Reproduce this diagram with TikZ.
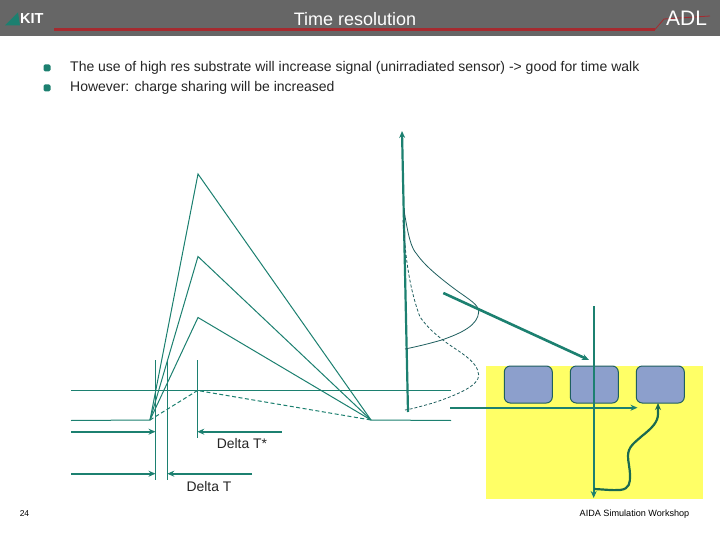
\documentclass[tikz,border=0pt]{standalone}
\usepackage{fontspec}
\setmainfont{Liberation Sans}
\usetikzlibrary{arrows.meta}
\definecolor{teal1}{HTML}{1C8070}
\definecolor{hdr}{HTML}{666666}
\definecolor{redl}{HTML}{A52A2F}
\definecolor{boxb}{HTML}{8C9FCC}
\definecolor{boxe}{HTML}{1F5F5F}
\definecolor{yel}{HTML}{FFFF66}
\definecolor{curv}{HTML}{1A6A50}
\tikzset{
 thin1/.style={draw=teal1,line width=1pt},
 thick1/.style={draw=teal1,line width=2.2pt},
 tip1/.style={-{Stealth[length=7pt,width=6pt]}},
 gauss/.style={draw=boxe,line width=0.8pt},
 bodytext/.style={anchor=west,inner sep=0pt,font=\fontsize{14}{16}\selectfont,text=black!85},
 lab/.style={inner sep=0pt,font=\fontsize{13.9}{16}\selectfont,text=black!85},
 bul/.style={fill=teal1,rounded corners=1.5pt,minimum size=7pt,inner sep=0pt},
 pix/.style={draw=boxe,fill=boxb,line width=1pt,rounded corners=6pt,minimum width=48pt,minimum height=37pt,inner sep=0pt}
}
\begin{document}
\begin{tikzpicture}[x=1pt,y=-1pt]
\useasboundingbox (0,0) rectangle (720,540);
\fill[white] (0,0) rectangle (720,540);
% header
\fill[hdr] (0,0) rectangle (720,36);
\draw[redl,line width=2.6pt] (54,29.5) -- (655,29.5);
\draw[redl,line width=0.8pt] (655,29.5) -- (664,19) -- (710,16);
\node[inner sep=0pt,text=white,font=\fontsize{18}{20}\selectfont] (title) at (355,19.5) {Time resolution};
\fill[teal1] (5,25.5) -- (18,12.5) -- (20,25.5) -- cycle;
\node[anchor=west,inner sep=0pt,text=white,font=\bfseries\fontsize{14.5}{16}\selectfont] (kit) at (20,19) {KIT};
\node[anchor=west,inner sep=0pt,text=white,font=\fontsize{21}{22}\selectfont] (adl) at (666,18) {ADL};
% bullets and text
\node[bul] (b1) at (47,68) {};
\node[bul] (b2) at (47,88) {};
\node[bodytext] (t1) at (70,67.5) {The use of high res substrate will increase signal (unirradiated sensor) -> good for time walk};
\node[bodytext] (t2) at (70,87.5) {However: charge sharing will be increased};
% sensor
\fill[yel] (485.7,365.7) rectangle (703,499);
\node[pix] (p1) at (528.3,384.5) {};
\node[pix] (p2) at (594.3,384.5) {};
\node[pix] (p3) at (660.3,384.5) {};
% named points
\coordinate (s) at (150,420);
\coordinate (e) at (371,420);
\coordinate (pa) at (198,174);
\coordinate (pb) at (198,256.5);
\coordinate (pc) at (198,317.5);
\coordinate (bl) at (71,420.5);
\coordinate (br) at (451,420.5);
\coordinate (tl) at (71,390.5);
\coordinate (tr) at (451,390.5);
% pulses
\draw[thin1] (s) -- (pa) -- (e);
\draw[thin1] (s) -- (pb) -- (e);
\draw[thin1] (s) -- (pc) -- (e);
\draw[thin1] (bl) -- (s);
\draw[thin1] (e) -- (br);
\draw[thin1] (tl) -- (tr);
\draw[thin1,dash pattern=on 4pt off 2.5pt] (s) -- (197.5,390.5) -- (e);
% vertical markers
\coordinate (v1a) at (155.5,360); \coordinate (v1b) at (155.5,480);
\coordinate (v2a) at (167.3,360); \coordinate (v2b) at (167.3,480);
\coordinate (v3a) at (197.3,360); \coordinate (v3b) at (197.3,438);
\draw[thin1] (v1a) -- (v1b);
\draw[thin1] (v2a) -- (v2b);
\draw[thin1] (v3a) -- (v3b);
% delta arrows
\coordinate (d1) at (71,431.7); \coordinate (d1e) at (155.5,431.7);
\coordinate (d2) at (281.7,431.7); \coordinate (d2e) at (197.3,431.7);
\coordinate (d3) at (71,473.7); \coordinate (d3e) at (155.5,473.7);
\coordinate (d4) at (252,473.7); \coordinate (d4e) at (167.3,473.7);
\draw[thick1,tip1] (d1) -- (d1e);
\draw[thick1,tip1] (d2) -- (d2e);
\draw[thick1,tip1] (d3) -- (d3e);
\draw[thick1,tip1] (d4) -- (d4e);
\node[lab] (dts) at (242,444) {Delta T*};
\node[lab] (dt) at (209,487) {Delta T};
% amplitude axis
\coordinate (ya) at (408,412); \coordinate (yb) at (402,131);
\draw[thick1,tip1] (ya) -- (yb);
% gaussians
\draw[gauss] (404,210) .. controls (408,235) and (411,248) .. (416.7,254) .. controls (425,266) and (440,278) .. (456,290) .. controls (470,300) and (479,305) .. (478.7,312) .. controls (478,325) and (462,333) .. (441.7,340) .. controls (428,344) and (415,347) .. (405,349);
\draw[gauss,dash pattern=on 3pt off 2pt] (403,220) .. controls (405,250) and (408,285) .. (420,317) .. controls (428,328) and (435,334) .. (443,340) .. controls (455,350) and (478,360) .. (478.7,375) .. controls (479,385) and (460,394) .. (433,403) .. controls (422,406) and (412,409) .. (405,410);
% long arrows
\coordinate (q1) at (443.3,293); \coordinate (q2) at (589,360);
\coordinate (r1) at (593.7,306); \coordinate (r2) at (593.7,498);
\coordinate (h1) at (450,407.7); \coordinate (h2) at (637.5,407.7);
\draw[thick1,line width=2.6pt,tip1] (q1) -- (q2);
\draw[thick1,tip1] (r1) -- (r2);
\draw[thick1,tip1] (h1) -- (h2);
\draw[draw=curv,line width=2.2pt,tip1] (594,489) .. controls (605,489.5) and (612,490.5) .. (620,490) .. controls (630,489) and (630,482) .. (630,476) .. controls (630,468) and (628,462) .. (628,456) .. controls (628,447) and (634,443) .. (642,436) .. controls (652,428) and (658,422) .. (658,414) -- (658,403);
% footer
\node[inner sep=0pt,font=\fontsize{8.5}{10}\selectfont] (pg) at (24.5,514) {24};
\node[inner sep=0pt,font=\fontsize{9.1}{10}\selectfont] (foot) at (634.5,514) {AIDA Simulation Workshop};
\end{tikzpicture}
\end{document}
